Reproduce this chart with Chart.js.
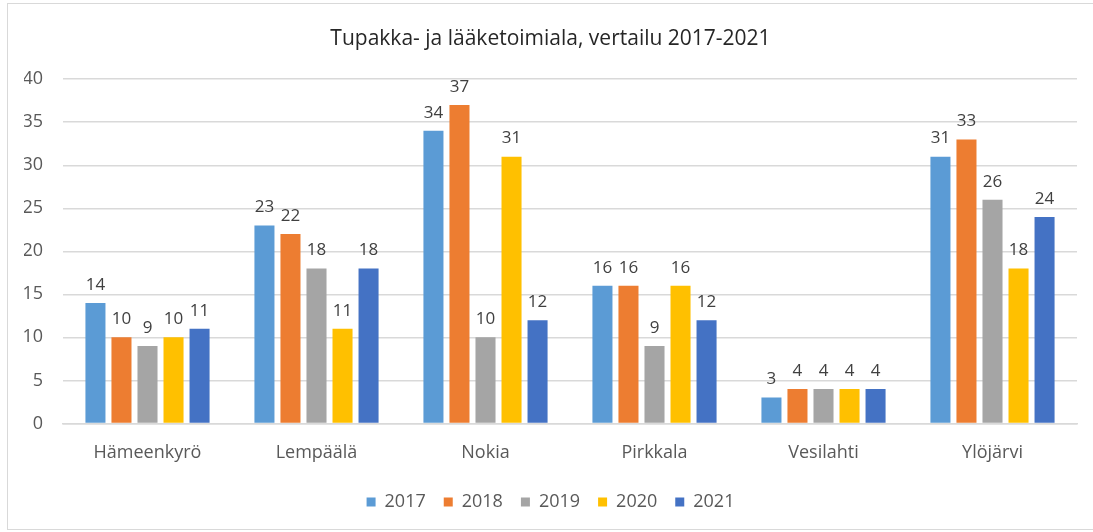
<!DOCTYPE html>
<html><head><meta charset="utf-8">
<script src="https://cdn.jsdelivr.net/npm/chart.js@4/dist/chart.umd.min.js"></script>
<style>
html,body{margin:0;padding:0;background:#fff;}
#wrap{position:absolute;left:0;top:0;width:1093px;height:532px;}
#frame{position:absolute;left:7px;top:3px;width:1090px;height:527px;border:1.5px solid #d9d9d9;box-sizing:border-box;}
</style></head>
<body>
<div id="frame"></div>
<div id="wrap"><canvas id="c" width="1093" height="532"></canvas></div>
<script>
const categories = ["Hämeenkyrö","Lempäälä","Nokia","Pirkkala","Vesilahti","Ylöjärvi"];
const seriesNames = ["2017","2018","2019","2020","2021"];
const v2017 = [14,23,34,16,3,31];
const v2018 = [10,22,37,16,4,33];
const v2019 = [9,18,10,9,4,26];
const v2020 = [10,11,31,16,4,18];
const v2021 = [11,18,12,12,4,24];
const yTicks = [0,5,10,15,20,25,30,35,40];
const colors = ["#5B9BD5","#ED7D31","#A5A5A5","#FFC000","#4472C4"];
const allValues = [v2017,v2018,v2019,v2020,v2021];
const FONT = '"Open Sans", sans-serif';

const labelPlugin = {
  id:'dataLabels',
  afterDatasetsDraw(chart){
    const ctx = chart.ctx;
    ctx.save();
    ctx.font = '17px ' + FONT;
    ctx.fillStyle = '#404040';
    ctx.textAlign = 'center';
    ctx.textBaseline = 'middle';
    chart.data.datasets.forEach((ds,i)=>{
      const meta = chart.getDatasetMeta(i);
      meta.data.forEach((bar,j)=>{
        ctx.fillText(String(ds.data[j]), bar.x, bar.y - 18);
      });
    });
    ctx.restore();
  }
};

new Chart(document.getElementById('c'),{
  type:'bar',
  data:{
    labels:categories,
    datasets: seriesNames.map((n,i)=>({label:n,data:allValues[i],backgroundColor:colors[i],borderWidth:0}))
  },
  options:{
    responsive:false,
    animation:false,
    devicePixelRatio:1,
    layout:{padding:{left:24,right:16,top:10,bottom:11}},
    datasets:{bar:{categoryPercentage:0.77,barPercentage:0.77}},
    plugins:{
      title:{display:true,text:"Tupakka- ja lääketoimiala, vertailu 2017-2021",color:'#262626',
        font:{family:FONT,size:21,weight:'normal'},padding:{top:16,bottom:28}},
      legend:{position:'bottom',labels:{boxWidth:9,boxHeight:9,color:'#595959',padding:18,
        font:{family:FONT,size:18}}},
      tooltip:{enabled:false}
    },
    scales:{
      x:{grid:{display:false},border:{color:'#d9d9d9',width:1.5},
        ticks:{color:'#595959',font:{family:FONT,size:18},padding:11}},
      y:{min:0,max:40,
        afterBuildTicks(s){s.ticks = yTicks.map(v=>({value:v}));},
        afterFit(s){s.width=39;},
        grid:{color:'#d9d9d9',drawTicks:false,lineWidth:1.5},border:{display:false},
        ticks:{color:'#595959',font:{family:FONT,size:18},padding:20}}
    }
  },
  plugins:[labelPlugin]
});
</script>
</body></html>
